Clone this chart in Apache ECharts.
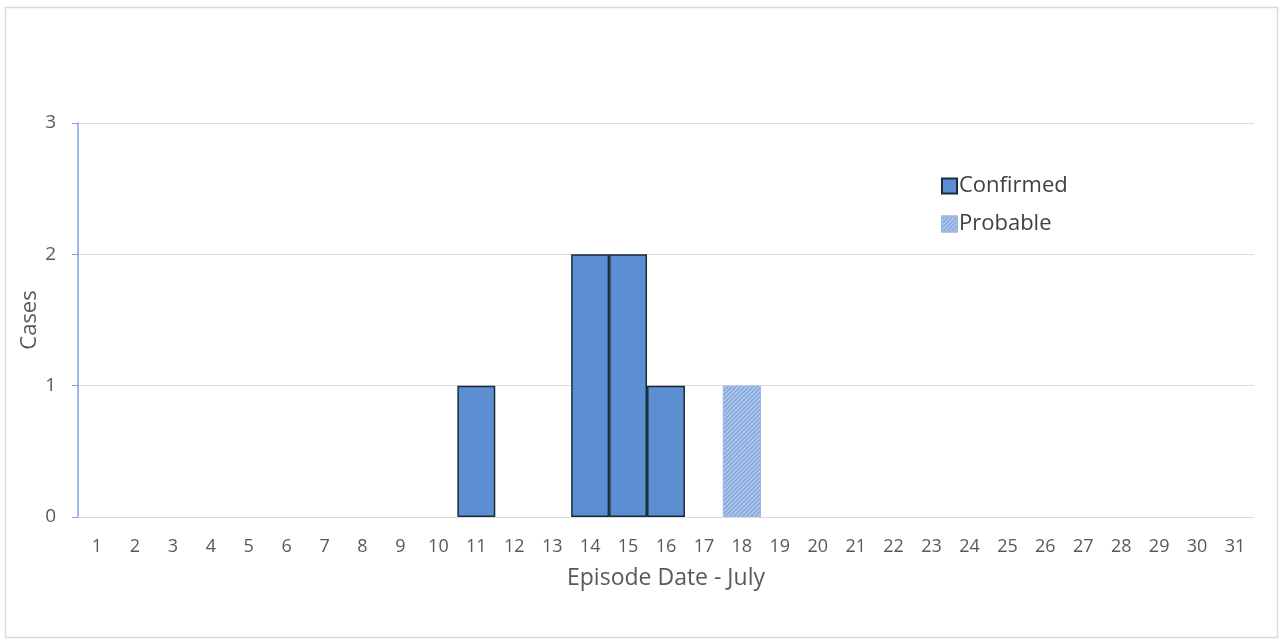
<!DOCTYPE html>
<html>
<head>
<meta charset="utf-8">
<script src="https://cdn.jsdelivr.net/npm/echarts@6/dist/echarts.min.js"></script>
<style>
  html, body { margin: 0; padding: 0; background: #fff; }
  #chart { width: 1280px; height: 641px; }
</style>
</head>
<body>
<div id="chart"></div>
<script>
// Episode dates in July
const days = ['1','2','3','4','5','6','7','8','9','10','11','12','13','14','15','16','17','18','19','20','21','22','23','24','25','26','27','28','29','30','31'];
// Case counts per day
const confirmed = [0,0,0,0,0,0,0,0,0,0,1,0,0,2,2,1,0,0,0,0,0,0,0,0,0,0,0,0,0,0,0];
const probable  = [0,0,0,0,0,0,0,0,0,0,0,0,0,0,0,0,0,1,0,0,0,0,0,0,0,0,0,0,0,0,0];
const yTicks = [0, 1, 2, 3];

const textColor = '#595959';
const font = '"Open Sans", "Noto Sans", sans-serif';

// empty days draw no bar outline
const asBars = arr => arr.map(v => (v === 0 ? '-' : v));

const chart = echarts.init(document.getElementById('chart'), null, { renderer: 'canvas' });

chart.setOption({
  animation: false,
  backgroundColor: '#fff',
  textStyle: { fontFamily: font, color: textColor },
  graphic: [{
    type: 'rect',
    shape: { x: 5.5, y: 7.5, width: 1272, height: 630 },
    style: { fill: 'none', stroke: '#d9d9d9', lineWidth: 1.5 },
    silent: true
  }],
  grid: { left: 78, right: 26, top: 123, bottom: 124 },
  legend: {
    orient: 'vertical',
    left: 936,
    top: 170,
    icon: 'rect',
    itemWidth: 15,
    itemHeight: 15,
    itemGap: 16,
    textStyle: { fontSize: 22, color: '#404040', fontFamily: font, padding: [0, 0, 0, -3] },
    data: ['Confirmed', 'Probable']
  },
  xAxis: {
    type: 'category',
    data: days,
    name: 'Episode Date - July',
    nameLocation: 'middle',
    nameGap: 50,
    nameTextStyle: { fontSize: 23, color: textColor, verticalAlign: 'top' },
    axisLine: { lineStyle: { color: '#d9d9d9', width: 1 } },
    axisTick: { show: false },
    axisLabel: { fontSize: 18, color: textColor, margin: 21, interval: 0 },
    splitLine: { show: false }
  },
  yAxis: {
    type: 'value',
    min: yTicks[0],
    max: yTicks[yTicks.length - 1],
    interval: 1,
    name: 'Cases',
    nameLocation: 'middle',
    nameGap: 48,
    nameMoveOverlap: false,
    nameTextStyle: { fontSize: 22, color: textColor, verticalAlign: 'middle' },
    axisLine: { show: true, lineStyle: { color: '#7fa3da', width: 1.5 } },
    axisTick: { show: true, length: 6, lineStyle: { color: '#7fa3da' } },
    axisLabel: { fontSize: 19, color: textColor, margin: 22 },
    splitLine: { lineStyle: { color: '#dcdcdc', width: 1 } }
  },
  series: [
    {
      name: 'Confirmed',
      type: 'bar',
      stack: 'cases',
      data: asBars(confirmed),
      barCategoryGap: 0,
      itemStyle: { color: '#5b8fd2', borderColor: '#1c2a3a', borderWidth: 1.5 }
    },
    {
      name: 'Probable',
      type: 'bar',
      stack: 'cases',
      data: asBars(probable),
      barCategoryGap: 0,
      itemStyle: {
        color: '#86a9df',
        borderColor: '#9bb8e6',
        borderWidth: 1,
        decal: {
          symbol: 'rect',
          color: 'rgba(255,255,255,0.5)',
          dashArrayX: [1, 0],
          dashArrayY: [1, 2],
          rotation: -Math.PI / 4
        }
      }
    }
  ]
});
</script>
</body>
</html>
